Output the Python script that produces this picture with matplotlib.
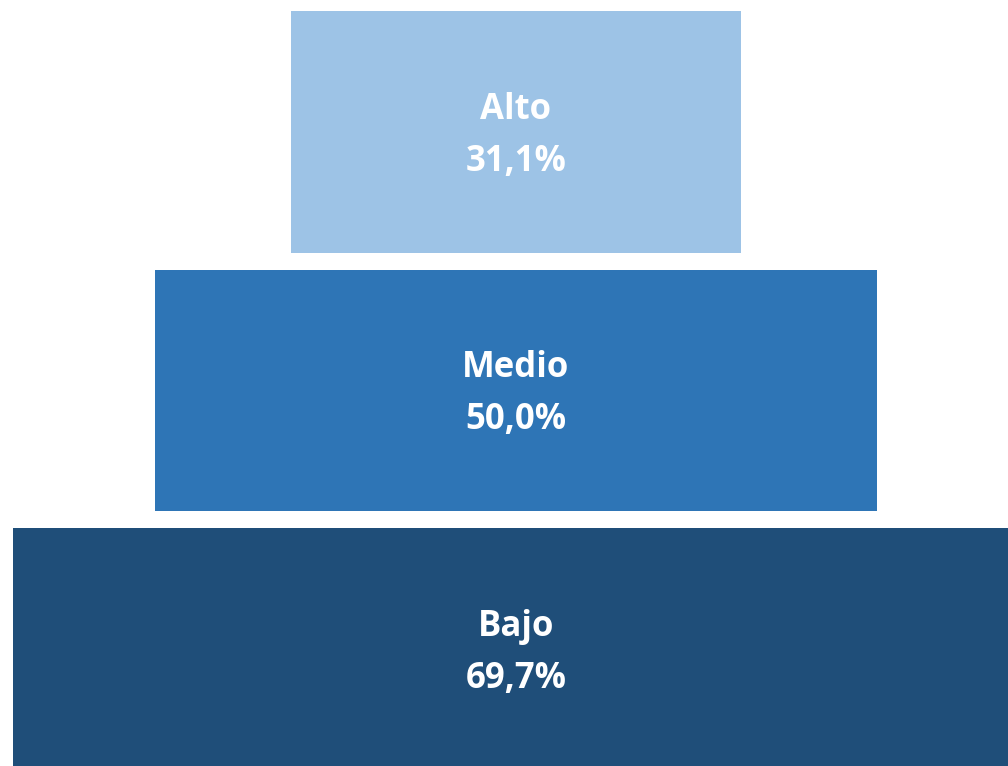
import matplotlib.pyplot as plt

# funnel levels, top to bottom
labels = ['Alto', 'Medio', 'Bajo']
values = [31.1, 50.0, 69.7]
colors = ['#9dc3e6', '#2e75b6', '#1f4e79']

fig = plt.figure(figsize=(10.08, 7.66), dpi=100)
ax = fig.add_axes([0, 0, 1, 1])

pos = list(range(len(values)))
lefts = [-v / 2 for v in values]
ax.barh(pos, values, left=lefts, height=0.936, color=colors)

for p, lab, v in zip(pos, labels, values):
    txt = f'{v:.1f}'.replace('.', ',') + '%'
    ax.annotate(lab, (0, p), xytext=(0, 16), textcoords='offset points',
                ha='center', va='center', color='white', fontsize=25,
                fontweight='bold', family='Open Sans')
    ax.annotate(txt, (0, p), xytext=(0, -21.5), textcoords='offset points',
                ha='center', va='center', color='white', fontsize=25,
                fontweight='bold', family='Open Sans')

ax.set_xlim(-35.73, 34.07)
ax.set_ylim(2.453, -0.511)
ax.axis('off')

plt.savefig('out.png')
